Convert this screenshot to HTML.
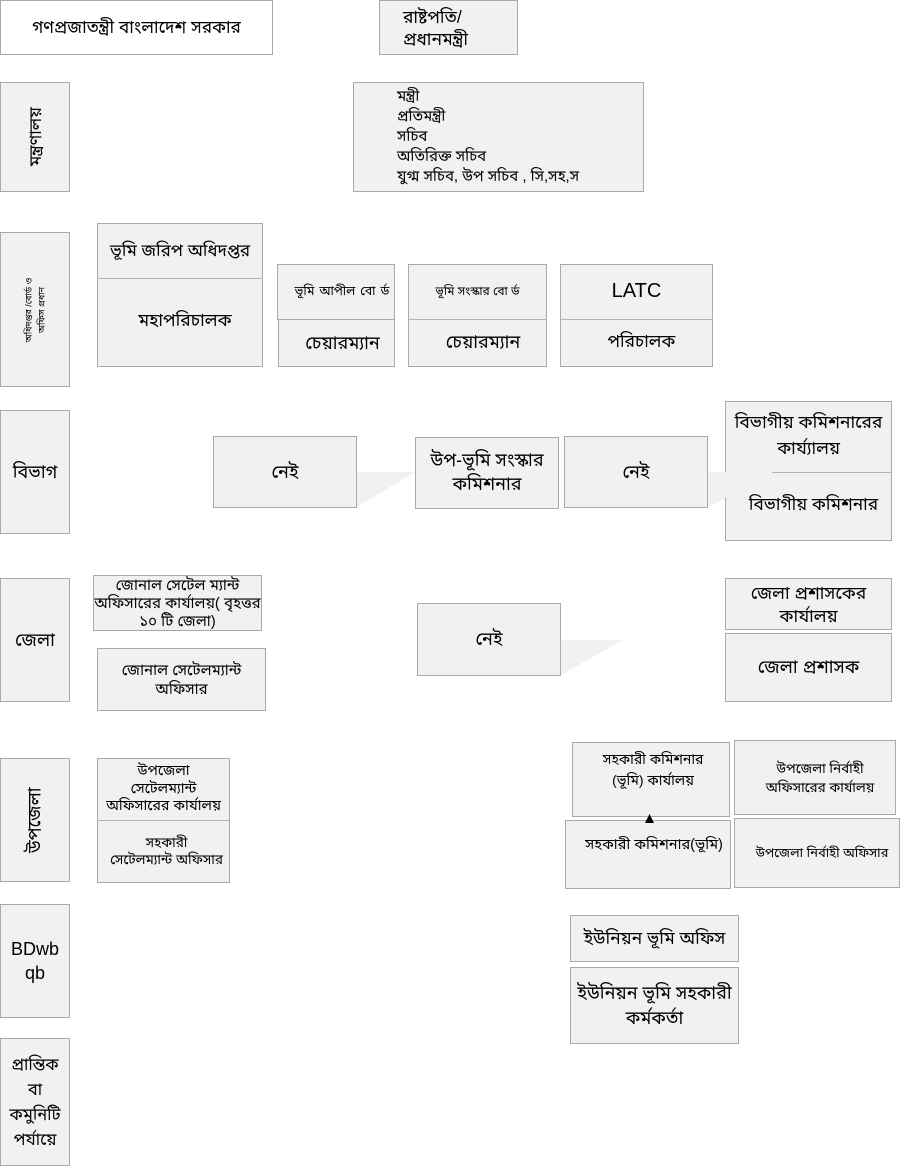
<!DOCTYPE html>
<html lang="bn"><head><meta charset="utf-8"><style>
html,body{margin:0;padding:0;background:#fff}
#p{position:relative;width:900px;height:1166px;overflow:hidden;background:#fff;font-family:"Liberation Sans","Noto Sans Bengali","Lohit Bengali","Noto Sans CJK SC",sans-serif;color:#000}
.b{position:absolute;box-sizing:border-box;background:#f1f1f1;border:1px solid #a9a9a9;display:flex;align-items:center;justify-content:center;text-align:center;line-height:1.25}
.t{position:absolute;text-align:center;line-height:1.25;white-space:nowrap}
.l{position:absolute;background:#b5b5b5;height:1px}
.v{transform:rotate(-90deg);white-space:nowrap}
svg{position:absolute;left:0;top:0}
</style></head><body><div id="p">
<div class="b" style="left:0;top:0;width:273px;height:55px;background:#fff;font-size:17.3px">গণপ্রজাতন্ত্রী বাংলাদেশ সরকার</div>
<div class="b" style="left:379px;top:0;width:139px;height:55px;font-size:17.5px;justify-content:flex-start;text-align:left;padding-left:23px;line-height:22px">রাষ্টপতি/<br>প্রধানমন্ত্রী</div>

<div class="b" style="left:0;top:82px;width:70px;height:110px"><span class="v" style="font-size:17px">মন্ত্রণালয়</span></div>
<div class="b" style="left:353px;top:82px;width:291px;height:110px;font-size:15px;justify-content:flex-start;text-align:left;padding-left:43px;line-height:20px">মন্ত্রী<br>প্রতিমন্ত্রী<br>সচিব<br>অতিরিক্ত সচিব<br>যুগ্ম সচিব, উপ সচিব , সি,সহ,স</div>

<div class="b" style="left:0;top:232px;width:70px;height:155px"><span class="v" style="font-size:9px;line-height:13px">অধিদপ্তর /বোর্ড ও<br>অফিস প্রধান</span></div>
<div class="b" style="left:97px;top:223px;width:166px;height:144px"></div>
<div class="l" style="left:97px;top:278px;width:166px"></div>
<div class="t" style="left:97px;top:240px;width:166px;font-size:17px">ভূমি জরিপ অধিদপ্তর</div>
<div class="t" style="left:102px;top:310px;width:166px;font-size:17.5px">মহাপরিচালক</div>

<div class="b" style="left:278px;top:319px;width:117px;height:48px;font-size:18px;padding-left:12px">চেয়ারম্যান</div>
<div class="b" style="left:277px;top:264px;width:118px;height:56px;font-size:12.500px;padding-left:12px;white-space:nowrap;word-spacing:1.500px">ভূমি আপীল বো র্ড</div>
<div class="b" style="left:408px;top:264px;width:139px;height:103px"></div>
<div class="l" style="left:408px;top:319px;width:139px"></div>
<div class="t" style="left:408px;top:284px;width:139px;font-size:12px">ভূমি সংস্কার বো র্ড</div>
<div class="t" style="left:408px;top:331px;width:150px;font-size:18px">চেয়ারম্যান</div>
<div class="b" style="left:560px;top:264px;width:153px;height:103px"></div>
<div class="l" style="left:560px;top:319px;width:153px"></div>
<div class="t" style="left:560px;top:279px;width:153px;font-size:20px">LATC</div>
<div class="t" style="left:560px;top:331px;width:163px;font-size:17.3px">পরিচালক</div>

<div class="b" style="left:0;top:410px;width:70px;height:124px;font-size:18px">বিভাগ</div>
<div class="b" style="left:213px;top:436px;width:144px;height:72px;font-size:18px">নেই</div>
<div class="b" style="left:415px;top:437px;width:144px;height:72px;font-size:18px;line-height:24px;padding-bottom:2px">উপ-ভূমি সংস্কার<br>কমিশনার</div>
<div class="b" style="left:564px;top:436px;width:144px;height:72px;font-size:18px">নেই</div>
<div class="b" style="left:725px;top:401px;width:167px;height:140px"></div>
<div class="l" style="left:772px;top:472px;width:119px"></div>
<div class="t" style="left:725px;top:409px;width:167px;font-size:17.5px;line-height:26px">বিভাগীয় কমিশনারের<br>কার্য্যালয়</div>
<div class="t" style="left:730px;top:494px;width:167px;font-size:17.3px">বিভাগীয় কমিশনার</div>

<div class="b" style="left:0;top:578px;width:70px;height:124px;font-size:18px">জেলা</div>
<div class="b" style="left:93px;top:575px;width:169px;height:56px;font-size:15px;line-height:18px;padding-top:1px">জোনাল সেটেল ম্যান্ট<br>অফিসারের কার্যালয়( বৃহত্তর<br>১০ টি জেলা)</div>
<div class="b" style="left:97px;top:648px;width:169px;height:63px;font-size:15px;line-height:19px">জোনাল সেটেলম্যান্ট<br>অফিসার</div>
<div class="b" style="left:417px;top:603px;width:144px;height:73px;font-size:18px">নেই</div>
<div class="b" style="left:725px;top:578px;width:167px;height:52px;font-size:17.5px;line-height:23px;padding-top:2px">জেলা প্রশাসকের<br>কার্যালয়</div>
<div class="b" style="left:725px;top:633px;width:167px;height:69px;font-size:18px">জেলা প্রশাসক</div>

<div class="b" style="left:0;top:758px;width:70px;height:124px"><span class="v" style="font-size:18px">উপজেলা</span></div>
<div class="b" style="left:97px;top:758px;width:133px;height:125px"></div>
<div class="l" style="left:97px;top:820px;width:133px"></div>
<div class="t" style="left:97px;top:763px;width:133px;font-size:14.3px;line-height:17.500px">উপজেলা<br>সেটেলম্যান্ট<br>অফিসারের কার্যালয়</div>
<div class="t" style="left:100px;top:834px;width:133px;font-size:13.500px;line-height:17px">সহকারী<br>সেটেলম্যান্ট অফিসার</div>
<div class="b" style="left:572px;top:742px;width:158px;height:75px;font-size:14px;line-height:21px;align-items:flex-start;padding-top:6px;padding-left:4px">সহকারী কমিশনার<br>(ভূমি) কার্যালয়</div>
<div class="b" style="left:565px;top:820px;width:166px;height:69px;font-size:14.6px;align-items:flex-start;padding-top:15px;padding-left:12px;white-space:nowrap">সহকারী কমিশনার(ভূমি)</div>
<div class="b" style="left:734px;top:740px;width:162px;height:75px;font-size:13.500px;line-height:19px;padding-left:10px">উপজেলা নির্বাহী<br>অফিসারের কার্যালয়</div>
<div class="b" style="left:734px;top:818px;width:166px;height:70px;font-size:13px;padding-left:10px;white-space:nowrap">উপজেলা নির্বাহী অফিসার</div>

<div class="b" style="left:0;top:904px;width:70px;height:114px;font-size:18px;line-height:24px">BDwb<br>qb</div>
<div class="b" style="left:570px;top:915px;width:169px;height:47px;font-size:17.5px">ইউনিয়ন ভূমি অফিস</div>
<div class="b" style="left:570px;top:967px;width:169px;height:77px;font-size:18px;line-height:25px">ইউনিয়ন ভূমি সহকারী<br>কর্মকর্তা</div>

<div class="b" style="left:0;top:1038px;width:70px;height:128px;font-size:16.500px;line-height:25px;padding-top:1px">প্রান্তিক<br>বা<br>কমুনিটি<br>পর্যায়ে</div>
<svg width="900" height="1166">
<polygon points="357,472 415,472 357,507" fill="#f1f1f1"/>
<polygon points="708,472 727,472 727,497 708,507" fill="#f1f1f1"/>
<polygon points="561,640 623,640 561,675" fill="#f1f1f1"/>
<polygon points="645,823 654,823 649.500,814" fill="#000"/>
</svg>
</div></body></html>
